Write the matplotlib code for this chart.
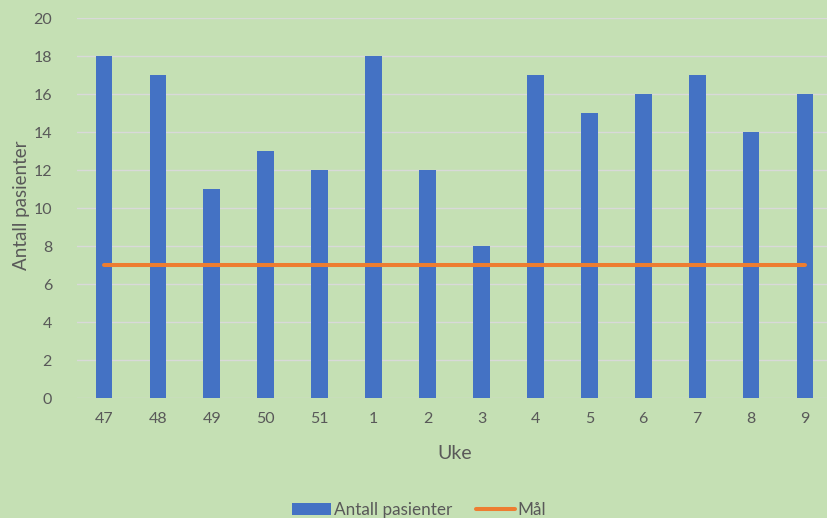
import matplotlib.pyplot as plt
import numpy as np
from matplotlib.patches import Patch
from matplotlib.lines import Line2D

plt.rcParams["font.family"] = ["Lato", "DejaVu Sans"]

uker = ["47", "48", "49", "50", "51", "1", "2", "3", "4", "5", "6", "7", "8", "9"]
pasienter = [18, 17, 11, 13, 12, 18, 12, 8, 17, 15, 16, 17, 14, 16]
maal = [7] * len(uker)

bg = "#C5E0B4"
blue = "#4472C4"
orange = "#ED7D31"
txt = "#595959"

fig = plt.figure(figsize=(8.27, 5.18), dpi=100, facecolor=bg)
# plot area runs slightly past the right edge of the figure
ax = fig.add_axes([77 / 827, 1 - 398 / 518, 755 / 827, 380 / 518])
ax.set_facecolor(bg)

x = np.arange(len(uker))
ax.bar(x, pasienter, width=0.31, color=blue, zorder=3)
ax.plot(x, maal, color=orange, linewidth=2.9, solid_capstyle="round", zorder=4)

ax.set_xlim(-0.5, len(uker) - 0.5)
ax.set_ylim(0, 20)
ax.set_yticks(range(0, 21, 2))
ax.set_xticks(x)
ax.set_xticklabels(uker)
ax.grid(axis="y", color="#D9D9D9", linewidth=1.0, zorder=0)
for s in ax.spines.values():
    s.set_visible(False)
ax.tick_params(length=0, colors=txt, labelsize=11.5)
ax.tick_params(axis="y", pad=18)
ax.tick_params(axis="x", pad=10)

ax.set_xlabel("Uke", fontsize=14, color=txt, labelpad=14)
fig.text(22 / 827, 1 - 205 / 518, "Antall pasienter", rotation=90, fontsize=13.5,
         color=txt, ha="center", va="center")

handles = [Patch(facecolor=blue, edgecolor="none"),
           Line2D([0], [0], color=orange, linewidth=2.9, solid_capstyle="round")]
fig.legend(handles, ["Antall pasienter", "Mål"], loc="center",
           bbox_to_anchor=(419 / 827, 1 - 510 / 518), ncol=2, frameon=False,
           fontsize=12.3, labelcolor=txt, handlelength=2.3, handleheight=0.7,
           columnspacing=1.4, handletextpad=0.15)

fig.savefig("out.png", dpi=100, facecolor=bg)
